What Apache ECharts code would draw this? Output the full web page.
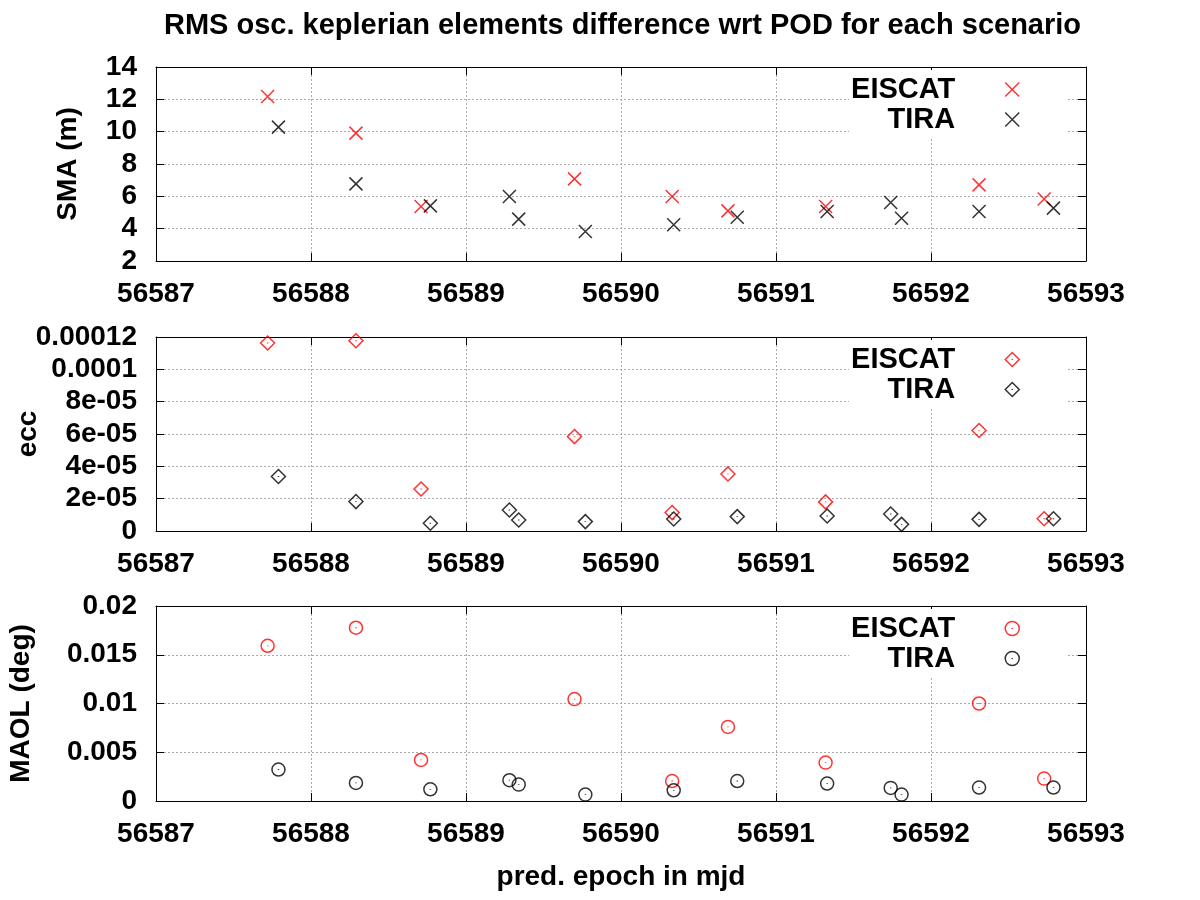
<!DOCTYPE html>
<html>
<head>
<meta charset="utf-8">
<script src="https://cdn.jsdelivr.net/npm/echarts@6/dist/echarts.min.js"></script>
<style>
  html, body { margin: 0; padding: 0; background: #fff; }
  #chart { width: 1200px; height: 900px; }
</style>
</head>
<body>
<div id="chart"></div>
<script>
// prediction epochs (mjd) of each scenario
const eiscatMjd = [56587.72, 56588.29, 56588.71, 56589.70, 56590.33, 56590.69, 56591.32, 56592.31, 56592.73]
const tiraMjd = [56587.79, 56588.29, 56588.77, 56589.28, 56589.34, 56589.77, 56590.34, 56590.75, 56591.33, 56591.74, 56591.81, 56592.31, 56592.79]

// RMS differences
const eiscatSma = [12.18, 9.91, 5.37, 7.08, 5.99, 5.10, 5.37, 6.71, 5.83]
const tiraSma = [10.28, 6.77, 5.41, 5.99, 4.59, 3.82, 4.24, 4.71, 5.06, 5.62, 4.65, 5.06, 5.27]
const eiscatEcc = [11.63e-5, 11.77e-5, 2.60e-5, 5.84e-5, 1.14e-5, 3.53e-5, 1.80e-5, 6.22e-5, 0.76e-5]
const tiraEcc = [3.37e-5, 1.82e-5, 0.48e-5, 1.30e-5, 0.68e-5, 0.58e-5, 0.74e-5, 0.89e-5, 0.93e-5, 1.05e-5, 0.41e-5, 0.72e-5, 0.76e-5]
const eiscatMaol = [0.01592, 0.01777, 0.00421, 0.01045, 0.00205, 0.0076, 0.00394, 0.0100, 0.0023]
const tiraMaol = [0.00323, 0.00185, 0.00120, 0.00213, 0.00168, 0.00066, 0.00110, 0.00205, 0.00179, 0.00134, 0.00066, 0.00138, 0.00138]

// tick labels
const smaTicks = ['2', '4', '6', '8', '10', '12', '14']
const eccTicks = ['0', '2e-05', '4e-05', '6e-05', '8e-05', '0.0001', '0.00012']
const maolTicks = ['0', '0.005', '0.01', '0.015', '0.02']

const FONT = 'Liberation Sans, Arial, Helvetica, sans-serif'
const RED = '#ff0000'
const BLACK = '#000000'

const crossSym = 'path://M0,0L10,10M10,0L0,10'
const diamondSym = 'path://M5,0L10,5L5,10L0,5Z M5,4.7L5,5.3'
const circleSym = 'path://M10,5A5,5 0 1 1 0,5A5,5 0 1 1 10,5Z M5,4.7L5,5.3'

const panels = [
  { top: 67, height: 194, name: 'SMA (m)', nameGap: 74, min: 2, max: 14, interval: 2, ticks: smaTicks,
    eiscat: eiscatSma, tira: tiraSma, symbol: crossSym, size: 13 },
  { top: 337, height: 194, name: 'ecc', nameGap: 114, min: 0, max: 0.00012, interval: 0.00002, ticks: eccTicks,
    eiscat: eiscatEcc, tira: tiraEcc, symbol: diamondSym, size: 14 },
  { top: 606, height: 195, name: 'MAOL (deg)', nameGap: 121, min: 0, max: 0.02, interval: 0.005, ticks: maolTicks,
    eiscat: eiscatMaol, tira: tiraMaol, symbol: circleSym, size: 13 }
]

const zip = (xs, ys) => xs.map((x, i) => [x, ys[i]])

const grid = []
const xAxis = []
const yAxis = []
const series = []
const legend = []

panels.forEach((p, i) => {
  grid.push({ left: 156, right: 114, top: p.top, height: p.height, outerBoundsMode: 'none', containLabel: false })
  const tick = { show: true, inside: true, length: 8, lineStyle: { color: '#000', width: 1 } }
  const line = { show: true, onZero: false, lineStyle: { color: '#000', width: 1 } }
  const dotted = { show: true, lineStyle: { color: '#aaa', type: [2, 2], width: 1 } }
  xAxis.push({
    type: 'value', gridIndex: i, position: 'bottom', min: 56587, max: 56593, interval: 1,
    axisLine: line, axisTick: tick, splitLine: dotted,
    axisLabel: { color: '#000', fontFamily: FONT, fontWeight: 'bold', fontSize: 28, margin: 19,
      formatter: v => String(v) },
    name: i === 2 ? 'pred. epoch in mjd' : '', nameLocation: 'middle', nameGap: 62, nameMoveOverlap: false,
    nameTextStyle: { color: '#000', fontFamily: FONT, fontWeight: 'bold', fontSize: 28 }
  })
  xAxis.push({
    type: 'value', gridIndex: i, position: 'top', min: 56587, max: 56593, interval: 1,
    axisLine: line, axisTick: tick, splitLine: { show: false }, axisLabel: { show: false }
  })
  yAxis.push({
    type: 'value', gridIndex: i, position: 'left', min: p.min, max: p.max, interval: p.interval,
    axisLine: line, axisTick: tick, splitLine: dotted,
    axisLabel: { color: '#000', fontFamily: FONT, fontWeight: 'bold', fontSize: 28, margin: 19,
      formatter: v => p.ticks[Math.round((v - p.min) / p.interval)] },
    name: p.name, nameLocation: 'middle', nameGap: p.nameGap, nameRotate: 90, nameMoveOverlap: false,
    nameTextStyle: { color: '#000', fontFamily: FONT, fontWeight: 'bold', fontSize: 28 }
  })
  yAxis.push({
    type: 'value', gridIndex: i, position: 'right', min: p.min, max: p.max, interval: p.interval,
    axisLine: line, axisTick: tick, splitLine: { show: false }, axisLabel: { show: false }
  })
  const mk = (name, xs, ys, color) => ({
    type: 'scatter', name: name, xAxisIndex: i * 2, yAxisIndex: i * 2,
    data: zip(xs, ys), symbol: p.symbol, symbolSize: p.size,
    itemStyle: { color: 'transparent', borderColor: color, borderWidth: 1.5 },
    emphasis: { disabled: true }, z: 3
  })
  series.push(mk('EISCAT', eiscatMjd, p.eiscat, RED))
  series.push(mk('TIRA', tiraMjd, p.tira, BLACK))
  legend.push({
    top: p.top + 3, right: 133, orient: 'vertical', align: 'right',
    itemWidth: 14, itemHeight: 14, itemGap: 1, padding: [5, 47, 4, 2],
    backgroundColor: '#fff', selectedMode: false,
    textStyle: { color: '#000', fontFamily: FONT, fontWeight: 'bold', fontSize: 29, padding: [0, 45, 0, 0] },
    itemStyle: { color: 'transparent', borderWidth: 1.5 },
    data: [
      { name: 'EISCAT', icon: p.symbol, itemStyle: { color: 'transparent', borderColor: RED, borderWidth: 1.5 } },
      { name: 'TIRA', icon: p.symbol, itemStyle: { color: 'transparent', borderColor: BLACK, borderWidth: 1.5 } }
    ]
  })
})

const chart = echarts.init(document.getElementById('chart'))
chart.setOption({
  animation: false,
  backgroundColor: '#fff',
  title: {
    text: 'RMS osc. keplerian elements difference wrt POD for each scenario',
    left: 164, top: 11, padding: 0,
    textStyle: { color: '#000', fontFamily: FONT, fontWeight: 'bold', fontSize: 29 }
  },
  grid: grid,
  xAxis: xAxis,
  yAxis: yAxis,
  legend: legend,
  series: series
})
</script>
</body>
</html>
